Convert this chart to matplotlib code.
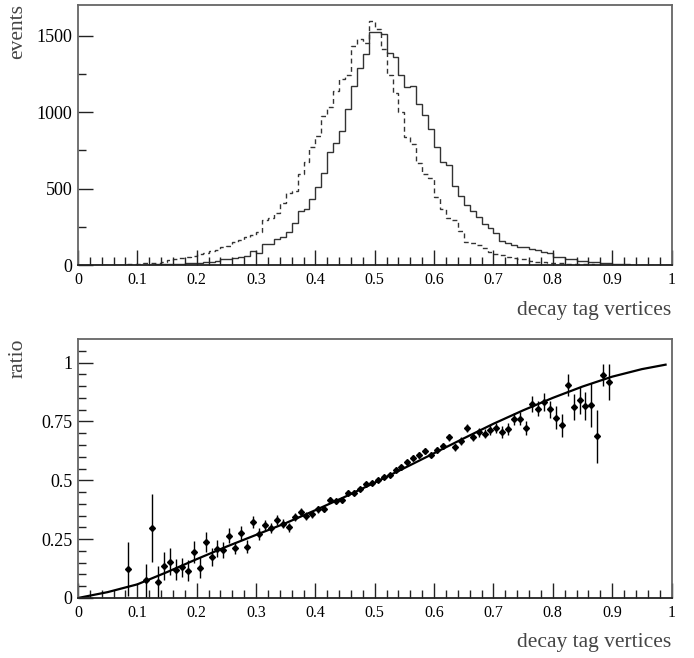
import numpy as np
import matplotlib
matplotlib.use("Agg")
import matplotlib.pyplot as plt

plt.rcParams['font.family'] = ['Liberation Serif', 'DejaVu Serif']

# ---------------- data ----------------
bin_lo, bin_hi, n_bins = 0.0, 1.0, 100

solid_counts = [
    0, 0, 0, 0, 0, 0, 1, 1, 1, 2,
    2, 3, 3, 4, 5, 6, 7, 8, 10, 12,
    14, 17, 22, 28, 37, 42, 46, 55, 58, 93,
    76, 135, 137, 167, 185, 215, 273, 355, 368, 430,
    510, 600, 741, 800, 875, 1020, 1170, 1286, 1379, 1522,
    1522, 1508, 1383, 1362, 1242, 1162, 1170, 1050, 980, 887,
    774, 675, 654, 516, 453, 392, 353, 312, 268, 240,
    211, 157, 146, 129, 120, 115, 107, 98, 85, 80,
    55, 52, 38, 36, 28, 26, 20, 18, 12, 10,
    6, 5, 4, 3, 2, 2, 1, 1, 0, 0,
]

dashed_counts = [
    0, 0, 1, 1, 2, 2, 3, 3, 4, 5,
    8, 10, 12, 15, 20, 30, 40, 48, 55, 62,
    70, 80, 92, 100, 115, 125, 148, 165, 180, 195,
    215, 294, 305, 338, 403, 473, 486, 595, 675, 773,
    843, 976, 1035, 1140, 1216, 1242, 1430, 1475, 1450, 1595,
    1540, 1410, 1242, 1122, 1002, 839, 791, 669, 595, 566,
    447, 364, 305, 294, 224, 153, 146, 131, 109, 87,
    72, 65, 54, 44, 37, 37, 28, 22, 18, 15,
    12, 10, 8, 7, 6, 5, 4, 3, 2, 2,
    1, 1, 1, 0, 0, 0, 0, 0, 0, 0,
]

ratio_x = [0.085, 0.115, 0.125, 0.135, 0.145, 0.155, 0.165, 0.175, 0.185, 0.195,
           0.205, 0.215, 0.225, 0.235, 0.245, 0.255, 0.265, 0.275, 0.285, 0.295,
           0.305, 0.315, 0.325, 0.335, 0.345, 0.355, 0.365, 0.375, 0.385, 0.395,
           0.405, 0.415, 0.425, 0.435, 0.445, 0.455, 0.465, 0.475, 0.485, 0.495,
           0.505, 0.515, 0.525, 0.535, 0.545, 0.555, 0.565, 0.575, 0.585, 0.595,
           0.605, 0.615, 0.625, 0.635, 0.645, 0.655, 0.665, 0.675, 0.685, 0.695,
           0.705, 0.715, 0.725, 0.735, 0.745, 0.755, 0.765, 0.775, 0.785, 0.795,
           0.805, 0.815, 0.825, 0.835, 0.845, 0.855, 0.865, 0.875, 0.885, 0.895]

ratio_y = [0.123, 0.076, 0.298, 0.069, 0.137, 0.154, 0.121, 0.130, 0.116, 0.196,
           0.129, 0.237, 0.175, 0.210, 0.203, 0.264, 0.213, 0.277, 0.218, 0.322,
           0.271, 0.308, 0.299, 0.331, 0.316, 0.300, 0.345, 0.366, 0.349, 0.355,
           0.376, 0.379, 0.415, 0.410, 0.415, 0.448, 0.448, 0.463, 0.484, 0.487,
           0.500, 0.513, 0.523, 0.545, 0.555, 0.576, 0.595, 0.607, 0.623, 0.609,
           0.629, 0.647, 0.682, 0.641, 0.667, 0.720, 0.684, 0.703, 0.698, 0.712,
           0.722, 0.705, 0.719, 0.760, 0.761, 0.723, 0.825, 0.804, 0.832, 0.801,
           0.766, 0.733, 0.905, 0.811, 0.839, 0.814, 0.821, 0.686, 0.948, 0.917]

ratio_err = [0.116, 0.070, 0.145, 0.065, 0.060, 0.058, 0.045, 0.042, 0.045, 0.047,
             0.044, 0.043, 0.037, 0.035, 0.035, 0.032, 0.025, 0.030, 0.028, 0.026,
             0.025, 0.025, 0.021, 0.021, 0.020, 0.020, 0.018, 0.017, 0.016, 0.015,
             0.014, 0.013, 0.012, 0.012, 0.011, 0.010, 0.010, 0.010, 0.009, 0.009,
             0.009, 0.009, 0.009, 0.010, 0.010, 0.010, 0.011, 0.011, 0.012, 0.012,
             0.013, 0.013, 0.014, 0.015, 0.016, 0.017, 0.018, 0.019, 0.020, 0.021,
             0.022, 0.024, 0.025, 0.027, 0.028, 0.030, 0.033, 0.033, 0.037, 0.035,
             0.050, 0.050, 0.045, 0.056, 0.058, 0.060, 0.094, 0.114, 0.047, 0.078]

fit_x = [0.0, 0.05, 0.10, 0.15, 0.20, 0.25, 0.30, 0.35, 0.40, 0.45, 0.50,
         0.55, 0.60, 0.65, 0.70, 0.75, 0.80, 0.85, 0.90, 0.95, 0.99]
fit_y = [0.0, 0.025, 0.058, 0.110, 0.165, 0.218, 0.268, 0.318, 0.373, 0.430, 0.490,
         0.552, 0.615, 0.678, 0.740, 0.797, 0.850, 0.898, 0.940, 0.972, 0.991]

x_ticklabels = ['0', '0.1', '0.2', '0.3', '0.4', '0.5', '0.6', '0.7', '0.8', '0.9', '1']
top_yticks = [0, 500, 1000, 1500]
bot_yticks = [0, 0.25, 0.5, 0.75, 1.0]
bot_yticklabels = ['0', '0.25', '0.5', '0.75', '1']

x_label = "decay tag vertices"
top_ylabel = "events"
bot_ylabel = "ratio"

# ---------------- figure ----------------
W, H = 694, 658
fig = plt.figure(figsize=(W / 100, H / 100), dpi=100)

def fx(px):
    return px / W

def fy(py):
    return 1 - py / H

L, R = 78, 671.5
ax1 = fig.add_axes([fx(L), fy(265), fx(R - L), (265 - 5) / H])
ax2 = fig.add_axes([fx(L), fy(598), fx(R - L), (598 - 339) / H])

spine_col = '#666666'
xtick_fs = 11.5
ytick_fs = 13
lab_fs = 15.5
lab_col = '#444444'

for ax in (ax1, ax2):
    for s in ax.spines.values():
        s.set_color(spine_col)
        s.set_linewidth(1.3)
    ax.spines['bottom'].set_color('#222222')
    ax.set_xlim(0, 1)
    ax.set_xticks(np.arange(0, 1.01, 0.1))
    ax.set_xticks(np.arange(0, 1.001, 0.02), minor=True)
    ax.set_xticklabels(x_ticklabels)
    ax.tick_params(axis='both', which='major', direction='in', length=11, width=1.0,
                   color='#222222', top=False, right=False)
    ax.tick_params(axis='x', which='major', labelsize=xtick_fs, pad=5)
    ax.tick_params(axis='y', which='major', labelsize=ytick_fs, pad=4)
    ax.tick_params(axis='both', which='minor', direction='in', length=6, width=1.0,
                   color='#222222', top=False, right=False)

# top histogram
edges = np.linspace(bin_lo, bin_hi, n_bins + 1)
ax1.stairs(solid_counts, edges, color='#333333', lw=1.0)
ax1.stairs(dashed_counts, edges, color='#333333', lw=1.0, linestyle=(0, (3.5, 2.5)))
ax1.set_ylim(0, 1700)
ax1.set_yticks(top_yticks)
ax1.set_yticks(np.arange(0, 1701, 250), minor=True)

# bottom ratio
ax2.errorbar(ratio_x, ratio_y, yerr=ratio_err, fmt='D', color='black', ms=3.0,
             elinewidth=1.0, capsize=0, zorder=3)
ax2.plot(fit_x, fit_y, color='black', lw=1.6, zorder=2)
ax2.set_ylim(0, 1.1)
ax2.set_yticks(bot_yticks)
ax2.set_yticklabels(bot_yticklabels)
ax2.set_yticks(np.arange(0, 1.1, 0.05), minor=True)

# labels
fig.text(fx(671), fy(311), x_label, ha='right', va='center', fontsize=lab_fs, color=lab_col)
fig.text(fx(671), fy(643), x_label, ha='right', va='center', fontsize=lab_fs, color=lab_col)
fig.text(fx(18), fy(4), top_ylabel, rotation=90, ha='center', va='top', fontsize=lab_fs, color=lab_col)
fig.text(fx(18), fy(338), bot_ylabel, rotation=90, ha='center', va='top', fontsize=lab_fs, color=lab_col)

fig.savefig('out.png', dpi=100)
